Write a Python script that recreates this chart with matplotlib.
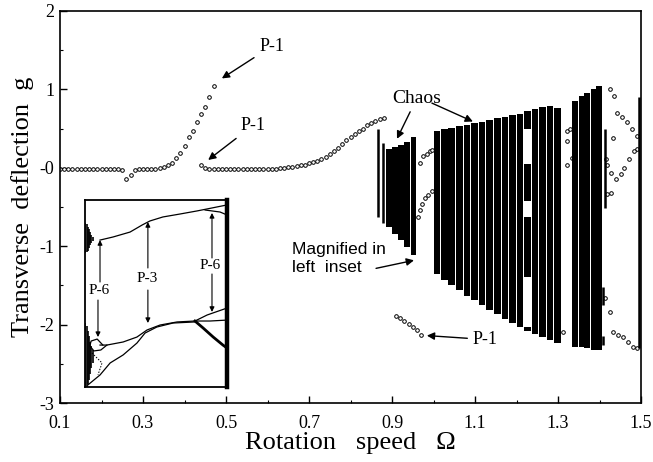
import numpy as np
import matplotlib
matplotlib.use("Agg")
import matplotlib.pyplot as plt

plt.rcParams["font.family"] = ["Liberation Serif", "DejaVu Serif"]

# ---------------- periodic (P-1) branches ----------------
omega_p1a = np.round(np.arange(0.10, 0.475, 0.01), 2)
g_p1a = [-0.02] * 15 + [-0.03, -0.14, -0.09, -0.03, -0.01, -0.02, -0.02, -0.02,
                        -0.01, 0.00, 0.01, 0.03, 0.06, 0.13, 0.19, 0.28, 0.39,
                        0.47, 0.58, 0.68, 0.78, 0.90, 1.04]

omega_p1b = np.round(np.arange(0.44, 0.885, 0.01), 2)
g_p1b = [0.04, 0.00, -0.01] + [-0.02] * 14 + [
    -0.02, -0.01, 0.00, 0.00, 0.01, 0.01, 0.02, 0.03, 0.04, 0.06, 0.07, 0.09,
    0.11, 0.14, 0.17, 0.21, 0.25, 0.30, 0.35, 0.39, 0.43, 0.47, 0.50, 0.54,
    0.57, 0.60, 0.62, 0.64]

omega_p1c = [0.91, 0.92, 0.93, 0.94, 0.95, 0.96, 0.97]
g_p1c = [-1.89, -1.92, -1.96, -1.99, -2.03, -2.07, -2.13]

# periodic points between and after the chaotic bands
omega_per = [0.968, 0.975, 0.984, 0.992, 0.996,
             0.963, 0.968, 0.972, 0.980, 0.987, 0.996,
             1.312, 1.322, 1.329, 1.322, 1.334, 1.322,
             1.425, 1.435, 1.442, 1.454, 1.466, 1.478, 1.490,
             1.433, 1.490,
             1.416, 1.418, 1.428, 1.440, 1.452, 1.459, 1.471, 1.483,
             1.418, 1.428,
             1.413, 1.425, 1.432, 1.444, 1.457, 1.469, 1.481, 1.490]
g_per = [0.06, 0.15, 0.18, 0.22, 0.23,
         -0.63, -0.54, -0.46, -0.39, -0.35, -0.29,
         -2.09, 0.47, 0.49, 0.34, 0.13, 0.03,
         1.01, 0.92, 0.70, 0.65, 0.59, 0.49, 0.41,
         0.38, 0.24,
         0.11, 0.03, -0.06, -0.14, -0.08, 0.00, 0.11, 0.22,
         -0.33, -0.32,
         -1.66, -1.84, -2.09, -2.13, -2.16, -2.22, -2.28, -2.30]

# ---------------- chaotic bands (extent of the attractor) ----------------
thin_omega = [0.866, 0.878, 1.413, 1.408, 1.408, 1.494]
thin_top = [0.49, 0.32, 0.49, -1.52, -2.15, 0.90]
thin_bot = [-0.63, -0.70, -0.51, -1.75, -2.26, -2.30]

band1_omega = [0.893, 0.907, 0.922, 0.936, 0.951]
band1_top = [0.24, 0.27, 0.29, 0.33, 0.39]
band1_bot = [-0.76, -0.84, -0.92, -1.01, -1.11]

band2_omega = [1.008, 1.026, 1.044, 1.063, 1.081, 1.099, 1.117, 1.135, 1.154,
               1.172, 1.190, 1.208, 1.226, 1.226, 1.226, 1.226,
               1.245, 1.263, 1.281, 1.299]
band2_top = [0.47, 0.49, 0.51, 0.53, 0.55, 0.57, 0.59, 0.61, 0.63,
             0.65, 0.67, 0.69, 0.72, 0.05, -0.63, -2.03,
             0.75, 0.78, 0.79, 0.76]
band2_bot = [-1.36, -1.43, -1.49, -1.56, -1.63, -1.69, -1.75, -1.81, -1.87,
             -1.93, -1.98, -2.03, 0.49, -0.42, -1.39, -2.08,
             -2.12, -2.16, -2.20, -2.24]

band3_omega = [1.341, 1.356, 1.370, 1.385, 1.399]
band3_top = [0.85, 0.91, 0.96, 1.01, 1.04]
band3_bot = [-2.28, -2.29, -2.30, -2.32, -2.33]

# ---------------- inset: P-3 / P-6 window ----------------
in_up_omega = [0.9637, 0.9669, 0.9711, 0.9741, 0.9760, 0.9792, 0.9834, 0.9876, 0.9901, 0.9950]
in_up_g = [-0.100, -0.077, -0.040, 0.013, 0.043, 0.073, 0.095, 0.118, 0.133, 0.163]
in_up2_omega = [0.9896, 0.9933, 0.9950]
in_up2_g = [0.125, 0.110, 0.088]

in_a_omega = [0.9637, 0.9654, 0.9694, 0.9728, 0.9753, 0.9785, 0.9827, 0.9871]
in_a_g = [-0.886, -0.886, -0.863, -0.826, -0.773, -0.736, -0.713, -0.706]
in_b_omega = [0.9607, 0.9637, 0.9662, 0.9694, 0.9728, 0.9748, 0.9777, 0.9817, 0.9871]
in_b_g = [-1.185, -1.110, -1.020, -0.960, -0.871, -0.796, -0.751, -0.721, -0.713]
in_loop_omega = [0.9644, 0.9630, 0.9615, 0.9612, 0.9622, 0.9639, 0.9654]
in_loop_g = [-0.886, -0.841, -0.856, -0.893, -0.930, -0.923, -0.886]
in_dash_omega = [0.9617, 0.9642, 0.9632]
in_dash_g = [-0.945, -1.020, -1.110]

in_hi_omega = [0.9871, 0.9901, 0.9950]
in_hi_g = [-0.706, -0.661, -0.609]
in_mid_omega = [0.9871, 0.9908, 0.9950]
in_mid_g = [-0.706, -0.706, -0.699]
in_lo_omega = [0.9871, 0.9891, 0.9916, 0.9940, 0.9950]
in_lo_g = [-0.706, -0.758, -0.826, -0.886, -0.908]

in_ch_omega = [0.9601, 0.9604, 0.9607, 0.9610, 0.9613, 0.9616, 0.9620,
               0.9601, 0.9604, 0.9607, 0.9610, 0.9613, 0.9616, 0.9619]
in_ch_top = [0.03, 0.02, 0.00, -0.02, -0.04, -0.06, -0.08,
             -0.72, -0.74, -0.78, -0.82, -0.86, -0.89, -0.92]
in_ch_bot = [-0.20, -0.19, -0.18, -0.16, -0.14, -0.12, -0.11,
             -1.20, -1.20, -1.18, -1.15, -1.10, -1.06, -1.02]

x_ticks = [0.1, 0.3, 0.5, 0.7, 0.9, 1.1, 1.3, 1.5]
x_ticklabels = ["0.1", "0.3", "0.5", "0.7", "0.9", "1.1", "1.3", "1.5"]
y_ticks = [-3, -2, -1, 0, 1, 2]
y_ticklabels = ["-3", "-2", "-1", "-0", "1", "2"]

# ---------------- figure ----------------
fig = plt.figure(figsize=(6.53, 4.62), dpi=100)
ax = fig.add_axes([60 / 653, 59 / 462, 581 / 653, 392 / 462])

circ = dict(ls="none", marker="o", ms=2.6, mfc="white", mec="black", mew=0.7)
ax.plot(omega_p1a, g_p1a, **circ)
ax.plot(omega_p1b, g_p1b, **circ)
ax.plot(omega_p1c, g_p1c, **circ)
ax.plot(omega_per, g_per, **circ)


def band(omega, top, bot, width):
    ax.bar(omega, np.subtract(top, bot), bottom=bot, width=width,
           color="black", lw=0, zorder=2)


ax.vlines(thin_omega, thin_bot, thin_top, colors="black", lw=1.8)
band(band1_omega, band1_top, band1_bot, 0.0128)
band(band2_omega, band2_top, band2_bot, 0.0160)
band(band3_omega, band3_top, band3_bot, 0.0130)

ax.set_xlim(0.1, 1.5)
ax.set_ylim(-3, 2)
ax.set_xticks(x_ticks)
ax.set_xticklabels(x_ticklabels)
ax.set_yticks(y_ticks)
ax.set_yticklabels(y_ticklabels)
ax.set_xticks(np.arange(0.2, 1.5, 0.2), minor=True)
ax.set_yticks(np.arange(-2.5, 2.0, 1.0), minor=True)
ax.tick_params(which="major", direction="in", length=5, width=1, labelsize=13)
ax.tick_params(axis="x", which="major", pad=9)
ax.tick_params(axis="y", which="major", pad=4)
ax.tick_params(which="minor", direction="in", length=2.5, width=0.8)
for s in ax.spines.values():
    s.set_linewidth(1.2)

ax.set_xlabel("Rotation   speed   Ω", fontsize=19, labelpad=0)
ax.set_ylabel("Transverse  deflection  g", fontsize=19, labelpad=4)

arrow = dict(arrowstyle="-|>", color="black", lw=1.0, mutation_scale=11,
             shrinkA=2, shrinkB=0)
ax.annotate("P-1", xy=(0.49, 1.14), xytext=(0.61, 1.55), fontsize=13,
            ha="center", va="center", arrowprops=arrow)
ax.annotate("P-1", xy=(0.457, 0.10), xytext=(0.565, 0.54), fontsize=13,
            ha="center", va="center", arrowprops=arrow)
ax.annotate("Chaos", xy=(0.912, 0.37), xytext=(0.96, 0.89), fontsize=14,
            ha="center", va="center", arrowprops=arrow)
ax.annotate("", xy=(1.095, 0.59), xytext=(0.99, 0.84), arrowprops=arrow)
ax.annotate("P-1", xy=(0.984, -2.14), xytext=(1.125, -2.19), fontsize=13,
            ha="center", va="center", arrowprops=arrow)
ax.text(0.66, -1.16, "Magnified in\nleft  inset", fontsize=12.5,
        family=["Liberation Sans", "DejaVu Sans"], ha="left", va="center",
        linespacing=1.25)
ax.annotate("", xy=(0.953, -1.18), xytext=(0.855, -1.29), arrowprops=arrow)

# ---------------- inset ----------------
axi = fig.add_axes([85 / 653, 75 / 462, 142 / 653, 187 / 462])
axi.set_xlim(0.960, 0.995)
axi.set_ylim(-1.2, 0.2)
axi.set_xticks([])
axi.set_yticks([])
for s in axi.spines.values():
    s.set_linewidth(1.3)
axi.spines["right"].set_linewidth(3.2)

lk = dict(color="black", lw=0.9)
axi.plot(in_up_omega, in_up_g, **lk)
axi.plot(in_up2_omega, in_up2_g, **lk)
axi.plot(in_a_omega, in_a_g, **lk)
axi.plot(in_b_omega, in_b_g, **lk)
axi.plot(in_loop_omega, in_loop_g, **lk)
axi.plot(in_dash_omega, in_dash_g, color="black", lw=0.7, ls=(0, (1.5, 1.5)))
axi.plot(in_hi_omega, in_hi_g, **lk)
axi.plot(in_mid_omega, in_mid_g, **lk)
axi.plot(in_lo_omega, in_lo_g, color="black", lw=2.0)
axi.vlines(in_ch_omega, in_ch_bot, in_ch_top, colors="black", lw=1.2)

iarrow = dict(arrowstyle="-|>", color="black", lw=0.8, mutation_scale=7,
              shrinkA=0, shrinkB=0)
axi.text(0.9634, -0.474, "P-6", fontsize=11, ha="center", va="center")
axi.annotate("", xy=(0.9637, -0.100), xytext=(0.9637, -0.414), arrowprops=iarrow)
axi.annotate("", xy=(0.9632, -0.826), xytext=(0.9632, -0.549), arrowprops=iarrow)
axi.text(0.9753, -0.384, "P-3", fontsize=11, ha="center", va="center")
axi.annotate("", xy=(0.9755, 0.035), xytext=(0.9755, -0.309), arrowprops=iarrow)
axi.annotate("", xy=(0.9755, -0.721), xytext=(0.9755, -0.474), arrowprops=iarrow)
axi.text(0.9908, -0.287, "P-6", fontsize=11, ha="center", va="center")
axi.annotate("", xy=(0.9913, 0.103), xytext=(0.9913, -0.234), arrowprops=iarrow)
axi.annotate("", xy=(0.9913, -0.638), xytext=(0.9913, -0.354), arrowprops=iarrow)

fig.savefig("out.png", dpi=100)
